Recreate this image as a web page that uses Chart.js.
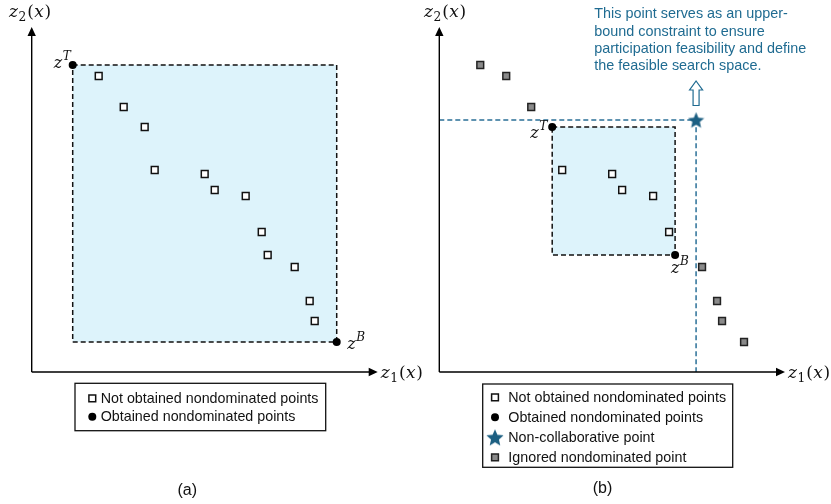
<!DOCTYPE html>
<html>
<head>
<meta charset="utf-8">
<script src="https://cdn.jsdelivr.net/npm/chart.js@4.4.1/dist/chart.umd.min.js"></script>
<style>
  html, body { margin: 0; padding: 0; background: #fff; }
  #wrap { position: relative; width: 831px; height: 504px; overflow: hidden; }
  #wrap canvas { position: absolute; left: 0; top: 0; }
</style>
</head>
<body>
<div id="wrap">
  <canvas id="chart-a" width="831" height="504"></canvas>
  <canvas id="chart-b" width="831" height="504"></canvas>
</div>
<script>
// ── Data: (z1, z2) objective values ───────────────────────────────
const notObtainedA = [[6.7, 29.6], [9.2, 26.5], [11.3, 24.5], [12.3, 20.2], [17.3, 19.8], [18.3, 18.2],
                      [21.4, 17.6], [23.0, 14.0], [23.6, 11.7], [26.3, 10.5], [27.8, 7.1], [28.3, 5.1]];
const obtainedA = [[4.1, 30.7], [30.5, 3.0]];            // z^T, z^B

const notObtainedB = [[12.3, 20.2], [17.3, 19.8], [18.3, 18.2], [21.4, 17.6], [23.0, 14.0]];
const obtainedB = [[11.3, 24.5], [23.6, 11.7]];          // z^T, z^B
const ignoredB = [[4.1, 30.7], [6.7, 29.6], [9.2, 26.5], [26.3, 10.5], [27.8, 7.1], [28.3, 5.1], [30.5, 3.0]];
const nonCollabB = [[25.7, 25.2]];

const axisMax = { z1: 34.6, z2: 34.5 };

const legendLabels = {
  notObtained: 'Not obtained nondominated points',
  obtained: 'Obtained nondominated points',
  nonCollab: 'Non-collaborative point',
  ignored: 'Ignored nondominated point',
};
const noteLines = ['This point serves as an upper-', 'bound constraint to ensure',
                   'participation feasibility and define', 'the feasible search space.'];

// ── Estilo ─────────────────────────────────────────────
const MATH = '"DejaVu Serif", "Liberation Serif", serif';
const SANS = '"Liberation Sans", Arial, sans-serif';
const TEAL = '#1f6b91';
const STAR = '#1c5f82';
const BOX_FILL = '#ddf3fb';

const pts = (arr) => arr.map(([x, y]) => ({ x, y }));

function boxPath(p, q) {
  return [{ x: p[0], y: p[1] }, { x: q[0], y: p[1] }, { x: q[0], y: q[1] }, { x: p[0], y: q[1] }, { x: p[0], y: p[1] }];
}

function makeStar(size) {
  const c = document.createElement('canvas');
  c.width = c.height = size;
  const g = c.getContext('2d');
  const cx = size / 2, cy = size / 2 + size * 0.05, R = size / 2, r = R * 0.46;
  g.beginPath();
  for (let i = 0; i < 10; i++) {
    const a = -Math.PI / 2 + i * Math.PI / 5;
    const rad = i % 2 ? r : R;
    g.lineTo(cx + rad * Math.cos(a), cy + rad * Math.sin(a));
  }
  g.closePath();
  g.fillStyle = STAR;
  g.fill();
  return c;
}
const starSmall = makeStar(17);
const starBig = makeStar(18);

// ── Datasets ───────────────────────────────────────────
const squareStyle = { pointStyle: 'rect', pointRadius: 4.8, backgroundColor: '#fff', borderColor: '#111', borderWidth: 1.5 };
const dotStyle = { pointStyle: 'circle', pointRadius: 4, backgroundColor: '#000', borderColor: '#000', borderWidth: 0 };
const graySquareStyle = { pointStyle: 'rect', pointRadius: 4.8, backgroundColor: '#8a8a8a', borderColor: '#222', borderWidth: 1.5 };

function boxDataset(obt) {
  return {
    type: 'line', data: boxPath(obt[0], obt[1]),
    borderColor: '#111', borderWidth: 1.5, borderDash: [5, 3],
    backgroundColor: BOX_FILL, fill: 'shape', pointRadius: 0, order: 10,
  };
}

// ── Math text helper ───────────────────────────────────
function drawMath(ctx, x, base, parts, size) {
  ctx.textBaseline = 'alphabetic';
  ctx.textAlign = 'left';
  for (const [t, k] of parts) {
    let fs = size, dy = 0, style = 'italic';
    if (k === 'r') style = 'normal';
    if (k === 'sub') { fs = size * 0.72; dy = size * 0.25; style = 'normal'; }
    if (k === 'sup') { fs = size * 0.75; dy = -size * 0.5; }
    ctx.font = `${style} ${fs}px ${MATH}`;
    ctx.fillText(t, x, base + dy);
    x += ctx.measureText(t).width + (k === 'sub' ? 1 : 0.5);
  }
}

function marker(ctx, ds, x, y, override) {
  ctx.fillStyle = ds.backgroundColor;
  ctx.strokeStyle = ds.borderColor;
  ctx.lineWidth = ds.borderWidth;
  Chart.helpers.drawPoint(ctx, {
    pointStyle: override || ds.pointStyle, radius: ds.pointRadius, rotation: 0, borderWidth: ds.borderWidth,
  }, x, y);
}

// ── Decoração: eixos, rótulos, legenda, legenda da figura ──
const decor = (cfg) => ({
  id: 'decor',
  afterDatasetsDraw(chart) {
    const { ctx, scales: { x, y } } = chart;
    const px = (v) => x.getPixelForValue(v), py = (v) => y.getPixelForValue(v);
    const x0 = px(0), y0 = py(0), x1 = px(x.max), y1 = py(y.max);
    ctx.save();

    // eixos com setas
    ctx.strokeStyle = '#000'; ctx.fillStyle = '#000'; ctx.lineWidth = 1.4;
    ctx.beginPath();
    ctx.moveTo(x0, y0); ctx.lineTo(x1 - 8, y0);
    ctx.moveTo(x0, y0); ctx.lineTo(x0, y1 + 8);
    ctx.stroke();
    ctx.beginPath();
    ctx.moveTo(x1, y0); ctx.lineTo(x1 - 9, y0 - 4.2); ctx.lineTo(x1 - 9, y0 + 4.2); ctx.closePath();
    ctx.moveTo(x0, y1); ctx.lineTo(x0 - 4.2, y1 + 9); ctx.lineTo(x0 + 4.2, y1 + 9); ctx.closePath();
    ctx.fill();

    // títulos dos eixos
    ctx.fillStyle = '#111';
    drawMath(ctx, x0 - cfg.z2dx, 17, [['z', 'i'], ['2', 'sub'], ['(', 'r'], ['x', 'i'], [')', 'r']], 17);
    drawMath(ctx, x1 + 3, y0 + 6, [['z', 'i'], ['1', 'sub'], ['(', 'r'], ['x', 'i'], [')', 'r']], 17);

    // z^T, z^B
    cfg.pointLabels.forEach((l) => {
      drawMath(ctx, px(l.pt[0]) + l.dx, py(l.pt[1]) + l.dy, [['z', 'i'], [l.sup, 'sup']], 16);
    });

    // nota + seta vazada
    if (cfg.note) {
      const sx = px(cfg.note.pt[0]), sy = py(cfg.note.pt[1]);
      ctx.fillStyle = TEAL;
      ctx.font = `14.4px ${SANS}`;
      ctx.textBaseline = 'middle';
      noteLines.forEach((t, i) => ctx.fillText(t, cfg.note.x, cfg.note.y + i * 17.3));
      const top = sy - 39, bot = sy - 14.5;
      ctx.beginPath();
      ctx.moveTo(sx, top); ctx.lineTo(sx + 6.5, top + 9); ctx.lineTo(sx + 3, top + 9); ctx.lineTo(sx + 3, bot);
      ctx.lineTo(sx - 3, bot); ctx.lineTo(sx - 3, top + 9); ctx.lineTo(sx - 6.5, top + 9); ctx.closePath();
      ctx.fillStyle = '#fff'; ctx.fill();
      ctx.strokeStyle = TEAL; ctx.lineWidth = 1.2; ctx.stroke();
    }

    // legenda com moldura
    const L = cfg.legend;
    ctx.strokeStyle = '#111'; ctx.lineWidth = 1.3;
    ctx.strokeRect(L.x, L.y, L.w, L.h);
    L.items.forEach((it, i) => {
      const ds = chart.data.datasets[it.ds];
      const ry = L.rows[i];
      marker(ctx, ds, L.mx, ry, it.icon);
      ctx.fillStyle = '#111';
      ctx.font = `14.3px ${SANS}`;
      ctx.textBaseline = 'middle';
      ctx.textAlign = 'left';
      ctx.fillText(ds.label, L.tx, ry + 0.5);
    });

    // (a) / (b)
    ctx.fillStyle = '#111';
    ctx.font = `16px ${SANS}`;
    ctx.textAlign = 'center';
    ctx.textBaseline = 'middle';
    ctx.fillText(cfg.caption.text, cfg.caption.x, cfg.caption.y);
    ctx.restore();
  },
});

function baseOptions(pad) {
  return {
    responsive: false, animation: false, events: [],
    layout: { padding: pad },
    plugins: { legend: { display: false }, tooltip: { enabled: false } },
    scales: {
      x: { type: 'linear', min: 0, max: axisMax.z1, display: false },
      y: { type: 'linear', min: 0, max: axisMax.z2, display: false },
    },
  };
}

// ── Painel (a) ─────────────────────────────────────────
new Chart(document.getElementById('chart-a'), {
  type: 'scatter',
  data: {
    datasets: [
      { label: legendLabels.notObtained, data: pts(notObtainedA), ...squareStyle, order: 2 },
      { label: legendLabels.obtained, data: pts(obtainedA), ...dotStyle, order: 1 },
      boxDataset(obtainedA),
    ],
  },
  options: baseOptions({ left: 31.7, top: 27, right: 831 - 377.7, bottom: 504 - 372 }),
  plugins: [decor({
    z2dx: 22.7,
    pointLabels: [
      { pt: obtainedA[0], sup: 'T', dx: -19, dy: 3 },
      { pt: obtainedA[1], sup: 'B', dx: 10.5, dy: 6.5 },
    ],
    legend: { x: 75, y: 383.3, w: 250.7, h: 47.4, mx: 92.3, tx: 100.7, rows: [398.3, 416.7],
              items: [{ ds: 0 }, { ds: 1 }] },
    caption: { text: '(a)', x: 187.3, y: 491 },
  })],
});

// ── Painel (b) ─────────────────────────────────────────
new Chart(document.getElementById('chart-b'), {
  type: 'scatter',
  data: {
    datasets: [
      { label: legendLabels.notObtained, data: pts(notObtainedB), ...squareStyle, order: 2 },
      { label: legendLabels.obtained, data: pts(obtainedB), ...dotStyle, order: 1 },
      { label: legendLabels.nonCollab, data: pts(nonCollabB), pointStyle: starSmall, pointRadius: 8,
        backgroundColor: STAR, borderColor: STAR, borderWidth: 0, order: 0 },
      { label: legendLabels.ignored, data: pts(ignoredB), ...graySquareStyle, order: 2 },
      boxDataset(obtainedB),
      { type: 'line', data: [{ x: 0, y: nonCollabB[0][1] }, { x: nonCollabB[0][0], y: nonCollabB[0][1] }, { x: nonCollabB[0][0], y: 0 }],
        borderColor: '#2a6f97', borderWidth: 1.5, borderDash: [5, 3], pointRadius: 0, fill: false, order: 9 },
    ],
  },
  options: baseOptions({ left: 439.3, top: 27, right: 831 - 785, bottom: 504 - 372 }),
  plugins: [decor({
    z2dx: 15.3,
    pointLabels: [
      { pt: obtainedB[0], sup: 'T', dx: -22, dy: 10.5 },
      { pt: obtainedB[1], sup: 'B', dx: -4, dy: 17.5 },
    ],
    note: { pt: nonCollabB[0], x: 594.3, y: 14.3 },
    legend: { x: 482.7, y: 384, w: 250, h: 83.3, mx: 495, tx: 508.3, rows: [397.3, 417.3, 437.3, 457.3],
              items: [{ ds: 0 }, { ds: 1 }, { ds: 2, icon: starBig }, { ds: 3 }] },
    caption: { text: '(b)', x: 602.5, y: 489 },
  })],
});
</script>
</body>
</html>
